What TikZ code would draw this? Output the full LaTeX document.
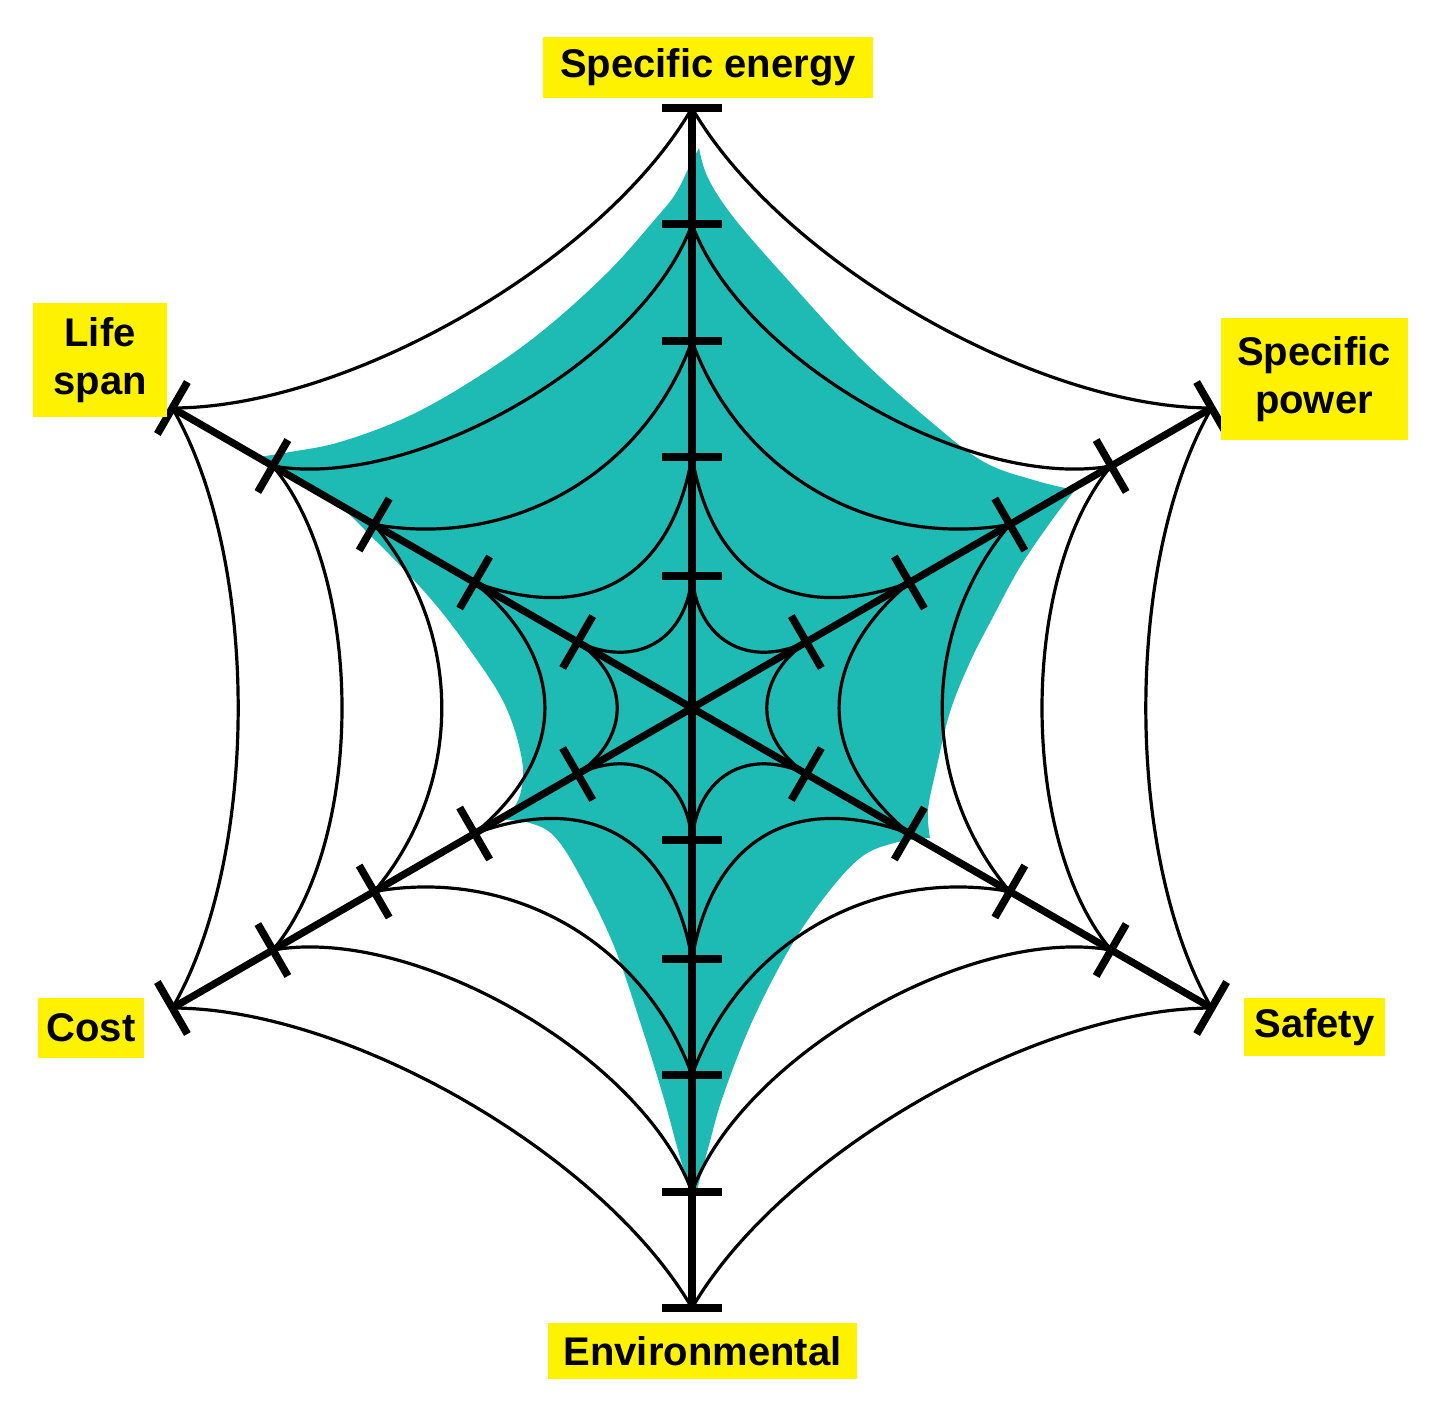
\documentclass[tikz,border=0pt]{standalone}
\usepackage{fontspec}
\setmainfont{Liberation Sans}
\usetikzlibrary{calc}
\definecolor{webteal}{RGB}{30,187,180}
\definecolor{labyellow}{RGB}{255,242,0}
\tikzset{
  axisline/.style={line width=3.6pt, black},
  tickbar/.style={line width=3.8pt, black},
  webline/.style={line width=1.6pt, black},
  lab/.style={fill=labyellow, font=\bfseries\fontsize{20}{24}\selectfont, align=center, inner sep=0pt, text=black}
}
\begin{document}
\begin{tikzpicture}[x=0.5pt,y=-0.5pt]
\useasboundingbox (0,0) rectangle (1440,1405);
\coordinate (O) at (692,708);
% teal area
\fill[webteal] (699,148)
  -- plot[smooth, tension=0.6] coordinates {(699,148) (708,178) (734,218) (787,279) (859,357) (930,421) (984,462) (1037,481) (1075,490)}
  -- plot[smooth, tension=0.6] coordinates {(1075,490) (1052,520) (1020,567) (994,615) (970,662) (950,712) (936,770) (928,810) (930,838)}
  -- plot[smooth, tension=0.6] coordinates {(930,838) (894,843) (860,858) (823,899) (787,953) (751,1024) (723,1096) (709,1145) (697,1190)}
  -- plot[smooth, tension=0.6] coordinates {(697,1190) (684,1170) (664,1099) (643,1031) (614,946) (579,874) (554,836) (530,823) (506,820)}
  -- plot[smooth, tension=0.6] coordinates {(506,820) (520,795) (522,760) (505,705) (470,650) (430,598) (375,540) (320,490) (252,458)}
  -- plot[smooth, tension=0.6] coordinates {(252,458) (290,452) (340,442) (407,417) (473,380) (540,333) (607,273) (657,217) (676,193) (690,165) (699,148)}
  -- cycle;
% points on axes
\foreach \a [count=\i] in {-90,-30,30,90,150,210} {
  \foreach \r [count=\k] in {132,251,367,484,600} {
    \coordinate (p\i-\k) at ($(O)+(\a:\r)$);
  }
}
% web curves
\foreach \i in {1,...,6} {
  \pgfmathtruncatemacro\j{mod(\i,6)+1}
  \foreach \k/\ang/\loose in {1/55/1.25, 2/50/1.25, 3/40/0.98, 4/40/0.76, 5/30/0.75} {
    \draw[webline] (p\i-\k) to[bend right=\ang, looseness=\loose] (p\j-\k);
  }
}
% axes and ticks
\foreach \a [count=\i] in {-90,-30,30,90,150,210} {
  \draw[axisline] (O) -- (p\i-5);
  \foreach \k in {1,...,5} {
    \draw[tickbar] ($(p\i-\k)+(\a+90:30)$) -- ($(p\i-\k)+(\a-90:30)$);
  }
}
% labels
\node[lab, minimum width=165pt, minimum height=30.5pt] (energy) at (708,67.5) {Specific energy};
\node[lab, minimum width=67pt, minimum height=57pt] (life) at (100,360) {Life\\span};
\node[lab, minimum width=93.5pt, minimum height=61pt] (power) at (1314,379) {Specific\\power};
\node[lab, minimum width=53pt, minimum height=30pt] (cost) at (91,1028) {Cost};
\node[lab, minimum width=70.5pt, minimum height=29pt] (safety) at (1314.5,1027) {Safety};
\node[lab, minimum width=154.5pt, minimum height=28pt] (environ) at (702.5,1351) {Environmental};
\end{tikzpicture}
\end{document}
